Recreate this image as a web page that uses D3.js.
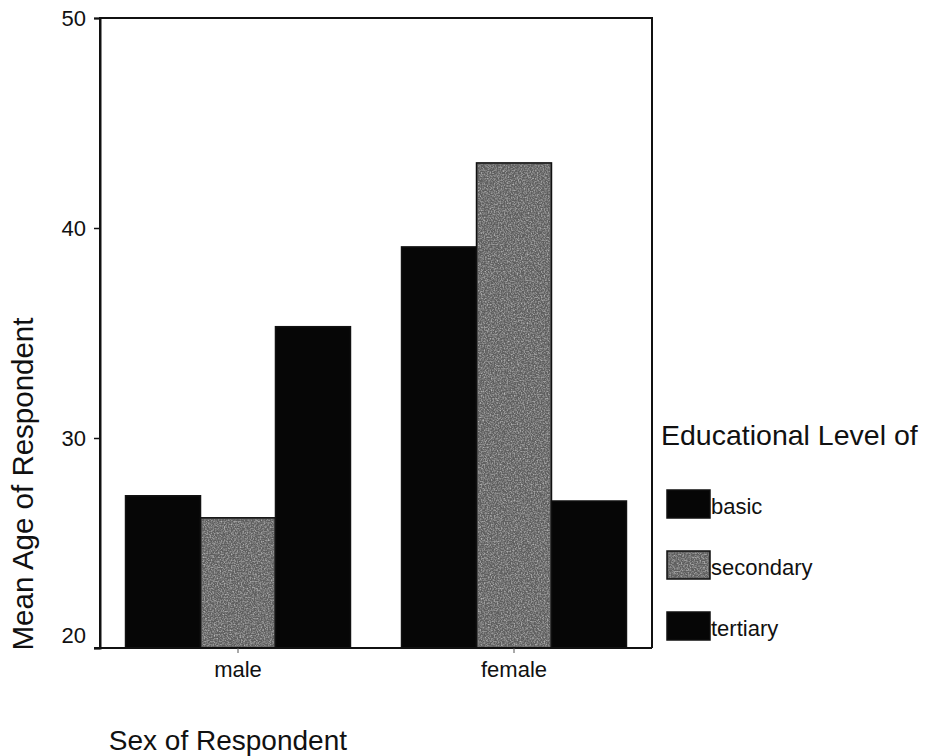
<!DOCTYPE html>
<html><head><meta charset="utf-8">
<script src="https://cdn.jsdelivr.net/npm/d3@7"></script>
<style>body{margin:0;background:#fff}svg{display:block}text{font-family:"Liberation Sans",Arial,sans-serif;fill:#111}</style>
</head><body><svg id="c" width="930" height="756"></svg>
<script>
const categories = ["male", "female"];
const seriesNames = ["basic", "secondary", "tertiary"];
const basicValues = [27.25, 39.1];
const secondaryValues = [26.2, 43.1];
const tertiaryValues = [35.3, 27.0];
const yTicks = [20, 30, 40, 50];
const seriesColors = ["#060606", "#5e5e5e", "#060606"];

(function(){
const svg = d3.select("#c");
const defs = svg.append("defs");
const f = defs.append("filter").attr("id","speckle").attr("x",0).attr("y",0).attr("width",1).attr("height",1);
f.append("feTurbulence").attr("type","fractalNoise").attr("baseFrequency",0.7).attr("numOctaves",2).attr("seed",3).attr("result","n");
f.append("feColorMatrix").attr("in","n").attr("type","matrix")
 .attr("values","0 0 0 0 0.55  0 0 0 0 0.55  0 0 0 0 0.55  0 0 0 -1.8 1.1").attr("result","g");
f.append("feComposite").attr("in","g").attr("in2","SourceGraphic").attr("operator","in");

const pL = 100, pR = 652, pT = 18, pB = 648;
const x = d3.scaleBand().domain(categories).range([pL, pR]).paddingInner(0.185).paddingOuter(0.0925);
const xs = d3.scaleBand().domain(seriesNames).range([0, x.bandwidth()]);
const y = d3.scaleLinear().domain([20, 50]).range([pB, pT]);

const values = [basicValues, secondaryValues, tertiaryValues];
const data = [];
categories.forEach((c, i) => seriesNames.forEach((s, j) => data.push({c, s, j, v: values[j][i]})));

const bars = svg.append("g");
bars.selectAll("rect.bar").data(data).join("rect").attr("class","bar")
  .attr("x", d => x(d.c) + xs(d.s))
  .attr("y", d => y(d.v))
  .attr("width", xs.bandwidth())
  .attr("height", d => y(20) - y(d.v))
  .attr("fill", d => seriesColors[d.j])
  .attr("stroke", "#111").attr("stroke-width", 1.5);
bars.selectAll("rect.tex").data(data.filter(d => d.j === 1)).join("rect").attr("class","tex")
  .attr("x", d => x(d.c) + xs(d.s) + 1.5)
  .attr("y", d => y(d.v) + 1.5)
  .attr("width", xs.bandwidth() - 3)
  .attr("height", d => y(20) - y(d.v) - 3)
  .attr("fill", "#777").attr("filter","url(#speckle)");

svg.append("path").attr("d", `M${pL},${pB}V${pT}H${pR}V${pB}`)
  .attr("fill","none").attr("stroke","#111").attr("stroke-width",2);

const ya = svg.append("g").attr("transform", `translate(${pL},0)`)
  .call(d3.axisLeft(y).tickValues(yTicks).tickSize(6).tickPadding(8).tickFormat(d3.format("d")));
ya.select(".domain").attr("stroke","#111").attr("stroke-width",2);
ya.selectAll(".tick line").attr("stroke","#111").attr("stroke-width",1.5);
ya.selectAll("text").attr("font-size",22).style("font-family","Liberation Sans, Arial, sans-serif").attr("fill","#111")
  .attr("dy", d => d === 20 ? "-0.25em" : "0.32em");

const xa = svg.append("g").attr("transform", `translate(0,${pB})`)
  .call(d3.axisBottom(x).tickSize(5).tickPadding(8));
xa.select(".domain").attr("d", `M${pL-6},0H${pR}`).attr("stroke","#111").attr("stroke-width",2);
xa.selectAll(".tick line").attr("stroke","#555");
xa.selectAll("text").attr("font-size",22).style("font-family","Liberation Sans, Arial, sans-serif").attr("fill","#111");

svg.append("text").attr("transform","translate(33,484) rotate(-90)").attr("text-anchor","middle")
  .attr("font-size",29.5).text("Mean Age of Respondent");
svg.append("text").attr("x",347).attr("y",750).attr("text-anchor","end").attr("font-size",28).text("Sex of Respondent");

const lg = svg.append("g");
lg.append("text").attr("x",661).attr("y",445).attr("font-size",28.5).text("Educational Level of");
const ly = d3.scalePoint().domain(seriesNames).range([490, 612]);
lg.selectAll("rect.sw").data(seriesNames).join("rect").attr("class","sw")
  .attr("x",667).attr("y", d => ly(d)).attr("width",43).attr("height",28)
  .attr("fill",(d,i) => seriesColors[i]).attr("stroke","#111").attr("stroke-width",1.5);
lg.selectAll("rect.swt").data(seriesNames.filter((d,i) => i === 1)).join("rect").attr("class","swt")
  .attr("x",668.5).attr("y", d => ly(d)+1.5).attr("width",40).attr("height",25)
  .attr("fill","#777").attr("filter","url(#speckle)");
lg.selectAll("text.lb").data(seriesNames).join("text").attr("class","lb")
  .attr("x",711).attr("y", d => ly(d) + 24).attr("font-size",22).text(d => d);
})();
</script></body></html>
